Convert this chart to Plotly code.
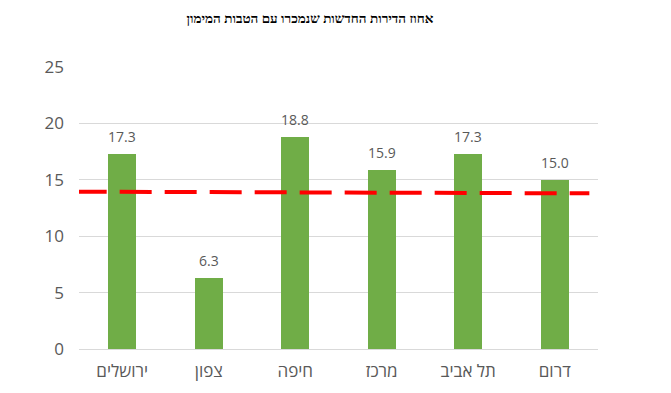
import plotly.graph_objects as go

categories = ["ירושלים", "צפון", "חיפה", "מרכז", "תל אביב", "דרום"]
values = [17.3, 6.3, 18.8, 15.9, 17.3, 15.0]
avg_line_x = [-0.55, 5.4]
avg_line_y = [13.95, 13.8]
title_text = "אחוז הדירות החדשות שנמכרו עם הטבות המימון"

xs = list(range(len(categories)))

fig = go.Figure()
fig.add_trace(go.Bar(
    x=xs, y=values, width=0.32,
    marker=dict(color="#70AD47", line=dict(width=0)),
))
fig.add_trace(go.Scatter(
    x=avg_line_x, y=avg_line_y, mode="lines",
    line=dict(color="#FF0000", width=4, dash="32px,13px"),
    cliponaxis=False,
))
for x, v in zip(xs, values):
    fig.add_annotation(x=x, y=v, text=f"{v:.1f}", showarrow=False, yanchor="bottom", yshift=6,
                       font=dict(family="Open Sans, sans-serif", size=14, color="#595959"))

fig.update_layout(
    width=671, height=393,
    margin=dict(l=71, r=81, t=59, b=52),
    paper_bgcolor="white", plot_bgcolor="white",
    showlegend=False,
    title=dict(text=f"<b>{title_text}</b>", x=302/671, xanchor="center", y=1 - 10/393, yanchor="middle",
               font=dict(family="Liberation Serif, serif", size=13.5, color="black")),
    xaxis=dict(range=[-0.5, 5.5], tickvals=xs, ticktext=categories, showgrid=False,
               zeroline=False, showline=False, ticks="", ticklabelstandoff=10,
               tickfont=dict(family="Open Sans, sans-serif", size=17, color="#595959")),
    yaxis=dict(range=[0, 25], dtick=5, showgrid=True, gridcolor="#D9D9D9", gridwidth=1,
               zeroline=True, zerolinecolor="#D9D9D9", zerolinewidth=1, showline=False,
               ticks="", ticklen=0, ticklabelstandoff=14,
               tickfont=dict(family="Open Sans, sans-serif", size=17, color="#595959")),
    bargap=0,
)
fig.write_html("out.html")
